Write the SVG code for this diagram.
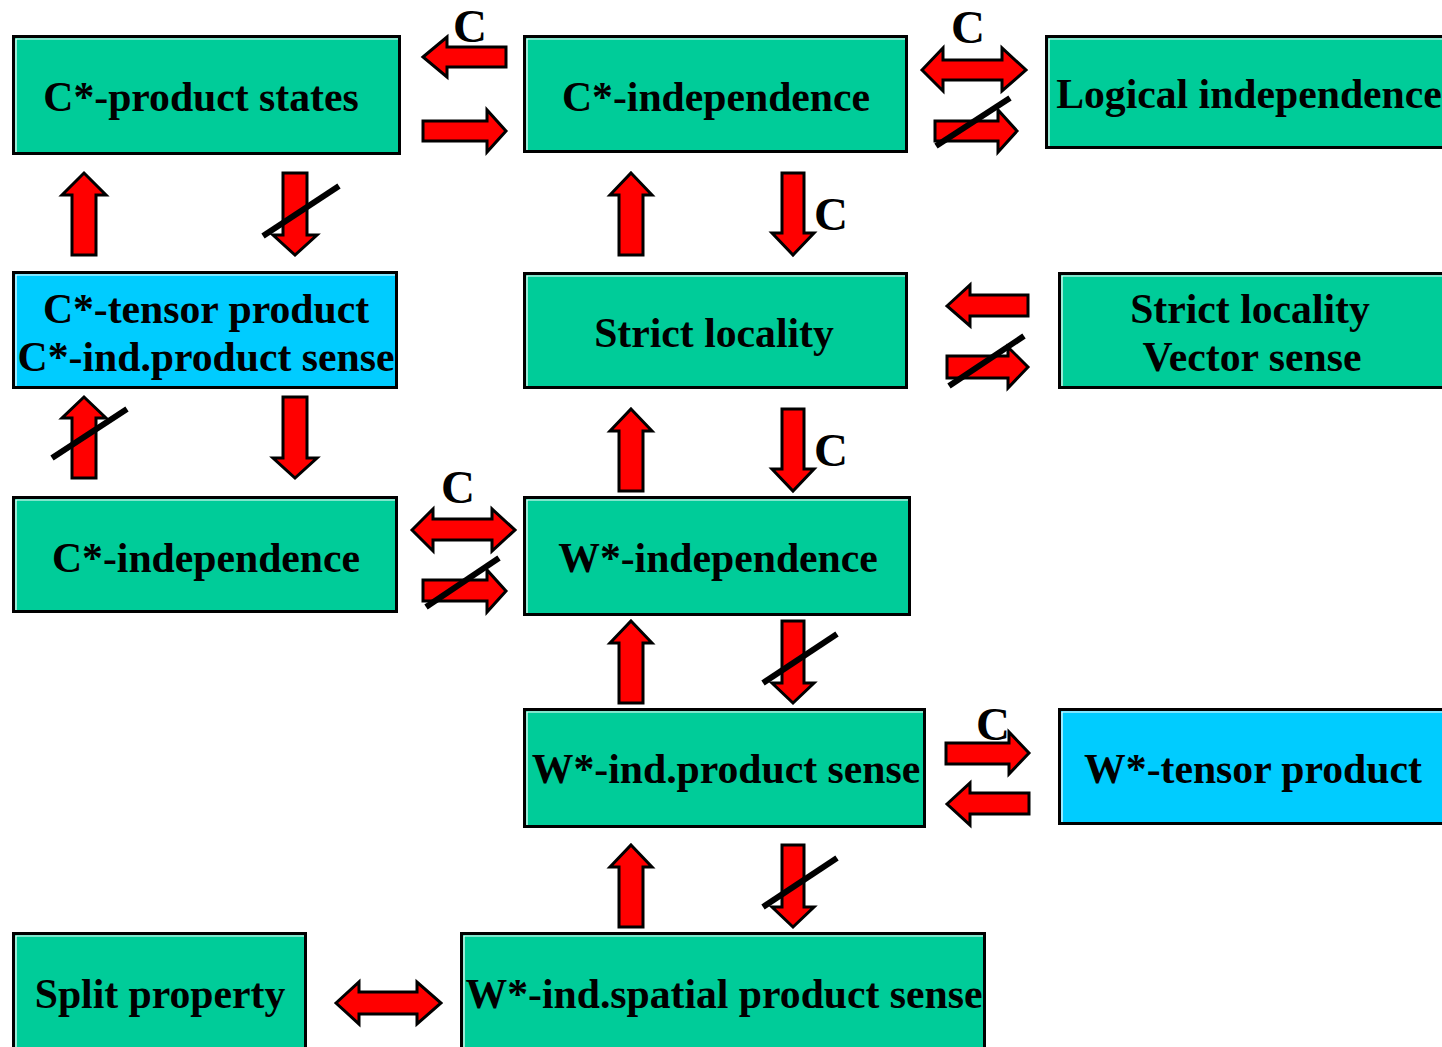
<svg xmlns="http://www.w3.org/2000/svg" width="1442" height="1047" viewBox="0 0 1442 1047">
<style>
.box{fill:#00CC99;stroke:#000;stroke-width:3}
.cyan{fill:#00CCFF}
.hl{fill:none;stroke:#fff;stroke-width:1.2}
.t{font-family:"Liberation Serif","Times New Roman",serif;font-weight:bold;font-size:41.7px;fill:#000;text-anchor:middle}
.c{font-family:"Liberation Serif","Times New Roman",serif;font-weight:bold;font-size:47px;fill:#000;text-anchor:middle}
.ar{fill:#FF0000;stroke:#000;stroke-width:3;stroke-linejoin:miter}
.sl{stroke:#000;stroke-width:6}
</style>
<rect width="1442" height="1047" fill="#fff"/>
<g id="n1"><rect class="box" x="13.5" y="36.5" width="386" height="117"/><path class="hl" d="M16,152 V39 H398"/><text class="t" x="201" y="111">C*-product states</text></g>
<g id="n2"><rect class="box" x="524.5" y="36.5" width="382" height="115"/><path class="hl" d="M527,150 V39 H905"/><text class="t" x="716" y="111">C*-independence</text></g>
<g id="n3"><rect class="box" x="1046.5" y="36.5" width="400" height="111"/><path class="hl" d="M1049,146 V39 H1442"/><text class="t" x="1249" y="108">Logical independence</text></g>
<g id="n4"><rect class="box cyan" x="13.5" y="272.5" width="383" height="115"/><path class="hl" d="M16,386 V275 H395"/><text class="t" x="206" y="323">C*-tensor product</text><text class="t" x="206" y="371">C*-ind.product sense</text></g>
<g id="n5"><rect class="box" x="524.5" y="273.5" width="382" height="114"/><path class="hl" d="M527,386 V276 H905"/><text class="t" x="714" y="347">Strict locality</text></g>
<g id="n6"><rect class="box" x="1059.5" y="273.5" width="390" height="114"/><path class="hl" d="M1062,386 V276 H1442"/><text class="t" x="1250" y="323">Strict locality</text><text class="t" x="1252" y="371">Vector sense</text></g>
<g id="n7"><rect class="box" x="13.5" y="497.5" width="383" height="114"/><path class="hl" d="M16,610 V500 H395"/><text class="t" x="206" y="572">C*-independence</text></g>
<g id="n8"><rect class="box" x="524.5" y="497.5" width="385" height="117"/><path class="hl" d="M527,613 V500 H908"/><text class="t" x="718" y="572">W*-independence</text></g>
<g id="n9"><rect class="box" x="524.5" y="709.5" width="400" height="117"/><path class="hl" d="M527,825 V712 H923"/><text class="t" x="726" y="783">W*-ind.product sense</text></g>
<g id="n10"><rect class="box cyan" x="1059.5" y="709.5" width="390" height="114"/><path class="hl" d="M1062,822 V712 H1442"/><text class="t" x="1253" y="783">W*-tensor product</text></g>
<g id="n11"><rect class="box" x="13.5" y="933.5" width="292" height="120"/><path class="hl" d="M16,1047 V936 H304"/><text class="t" x="160" y="1008">Split property</text></g>
<g id="n12"><rect class="box" x="461.5" y="933.5" width="523" height="120"/><path class="hl" d="M464,1047 V936 H983"/><text class="t" x="724" y="1008">W*-ind.spatial product sense</text></g>
<g id="connectors">
<path class="ar" d="M423,57 L447,37 L447,47 L506,47 L506,67 L447,67 L447,77 Z"/>
<path class="ar" d="M506,131 L487,110 L487,121 L423,121 L423,141 L487,141 L487,152 Z"/>
<text class="c" x="470" y="42">C</text>
<path class="ar" d="M922,70 L943,48 L943,60 L1002,60 L1002,48 L1026,70 L1002,91 L1002,80 L943,80 L943,91 Z"/>
<path class="ar" d="M1017,131 L998,110 L998,121 L935,121 L935,141 L998,141 L998,152 Z"/>
<line class="sl" x1="936" y1="146" x2="1010" y2="98"/>
<text class="c" x="968" y="43">C</text>
<path class="ar" d="M84,173 L106,195 L96,195 L96,255 L72,255 L72,195 L62,195 Z"/>
<path class="ar" d="M283,173 L307,173 L307,235 L317,235 L295,255 L273,235 L283,235 Z"/>
<line class="sl" x1="263" y1="236" x2="339" y2="186"/>
<path class="ar" d="M84,397 L106,418 L96,418 L96,478 L72,478 L72,418 L62,418 Z"/>
<line class="sl" x1="52" y1="458" x2="127" y2="409"/>
<path class="ar" d="M283,397 L307,397 L307,458 L317,458 L295,478 L273,458 L283,458 Z"/>
<path class="ar" d="M947,306 L970,285 L970,295 L1028,295 L1028,316 L970,316 L970,326 Z"/>
<path class="ar" d="M1028,367 L1008,347 L1008,356 L947,356 L947,378 L1008,378 L1008,388 Z"/>
<line class="sl" x1="949" y1="386" x2="1024" y2="336"/>
<path class="ar" d="M412,530 L433,509 L433,519 L492,519 L492,509 L515,530 L492,551 L492,540 L433,540 L433,551 Z"/>
<path class="ar" d="M506,591 L487,570 L487,580 L423,580 L423,601 L487,601 L487,612 Z"/>
<line class="sl" x1="426" y1="607" x2="499" y2="558"/>
<text class="c" x="458" y="503">C</text>
<path class="ar" d="M631,173 L652,195 L643,195 L643,255 L619,255 L619,195 L610,195 Z"/>
<path class="ar" d="M631,409 L652,431 L643,431 L643,491 L619,491 L619,431 L610,431 Z"/>
<path class="ar" d="M631,621 L652,643 L643,643 L643,703 L619,703 L619,643 L610,643 Z"/>
<path class="ar" d="M631,845 L652,867 L643,867 L643,927 L619,927 L619,867 L610,867 Z"/>
<path class="ar" d="M782,173 L804,173 L804,233 L814,233 L793,255 L772,233 L782,233 Z"/>
<text class="c" x="831" y="230">C</text>
<path class="ar" d="M782,409 L804,409 L804,469 L814,469 L793,491 L772,469 L782,469 Z"/>
<text class="c" x="831" y="466">C</text>
<path class="ar" d="M782,621 L804,621 L804,683 L814,683 L793,703 L772,683 L782,683 Z"/>
<line class="sl" x1="763" y1="683" x2="837" y2="634"/>
<path class="ar" d="M782,845 L804,845 L804,907 L814,907 L793,927 L772,907 L782,907 Z"/>
<line class="sl" x1="763" y1="907" x2="837" y2="858"/>
<path class="ar" d="M1029,753 L1009,732 L1009,743 L946,743 L946,764 L1009,764 L1009,774 Z"/>
<text class="c" x="993" y="740">C</text>
<path class="ar" d="M947,804 L970,783 L970,793 L1029,793 L1029,814 L970,814 L970,825 Z"/>
<path class="ar" d="M336,1003 L359,982 L359,992 L417,992 L417,982 L441,1003 L417,1024 L417,1014 L359,1014 L359,1024 Z"/>
</g>
</svg>
